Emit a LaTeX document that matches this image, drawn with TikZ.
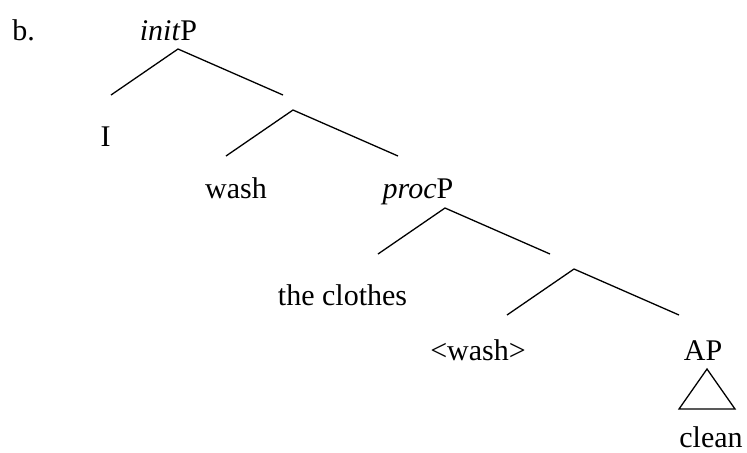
\documentclass[tikz,border=0pt]{standalone}
\usepackage{fontspec}
\setmainfont{Liberation Serif}
\usepackage{tikz}
\usetikzlibrary{positioning}

\begin{document}
\begin{tikzpicture}[x=0.5pt, y=-0.5pt, font=\fontsize{15}{18}\selectfont,
  lbl/.style={anchor=base, inner sep=0pt},
  branch/.style={line width=0.65pt}]
  \useasboundingbox (0,0) rectangle (747,452);
  % ---- labels (baseline positions) ----
  \node[lbl, anchor=base west] (ex) at (12,40) {b.};
  \node[lbl] (initP) at (168.5,40) {\textit{init}P};
  \node[lbl] (subj) at (105.5,146) {I};
  \node[lbl] (wash) at (236,198) {wash};
  \node[lbl] (procP) at (418,198) {\textit{proc}P};
  \node[lbl] (obj) at (342.5,305) {the clothes};
  \node[lbl] (trace) at (478,360) {\textless wash\textgreater};
  \node[lbl] (AP) at (703,360) {AP};
  \node[lbl] (clean) at (711,447) {clean};
  % ---- branching points: left arm (-67,46), right arm (105,46) ----
  \foreach \nm/\ax/\ay in {initv/178/49, initw/293/110, procv/445/208, procw/574/269} {
    \coordinate (\nm) at (\ax,\ay);
    \coordinate (\nm-l) at (\ax-67,\ay+46);
    \coordinate (\nm-r) at (\ax+105,\ay+46);
    \draw[branch] (\nm-l) -- (\nm) -- (\nm-r);
  }
  % ---- triangle under AP ----
  \coordinate (tri-t) at (707,369);
  \coordinate (tri-l) at (679,409);
  \coordinate (tri-r) at (735,409);
  \draw[branch] (tri-t) -- (tri-l) -- (tri-r) -- cycle;
\end{tikzpicture}
\end{document}
